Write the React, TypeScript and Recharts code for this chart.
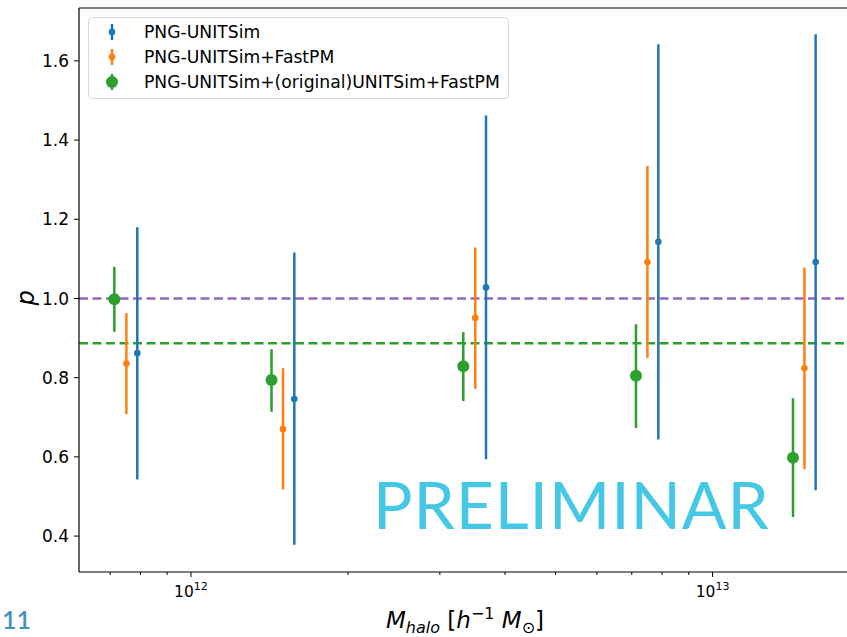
import React from "react";
import {
  ScatterChart,
  Scatter,
  XAxis,
  YAxis,
  ErrorBar,
  ReferenceLine,
  Legend,
} from "recharts";

// halo mass bins (h^-1 Msun), each series slightly offset
const massBlue = [7.89e11, 1.578e12, 3.678e12, 7.87e12, 1.576e13];
const massOrange = [7.52e11, 1.501e12, 3.508e12, 7.5e12, 1.5e13];
const massGreen = [7.13e11, 1.427e12, 3.327e12, 7.13e12, 1.426e13];

// p estimates and lower / upper ends of the error bars
const pBlue = [0.862, 0.746, 1.028, 1.143, 1.092];
const loBlue = [0.543, 0.378, 0.594, 0.644, 0.516];
const hiBlue = [1.18, 1.116, 1.462, 1.642, 1.667];

const pOrange = [0.836, 0.67, 0.951, 1.092, 0.824];
const loOrange = [0.708, 0.518, 0.772, 0.85, 0.569];
const hiOrange = [0.963, 0.824, 1.129, 1.335, 1.078];

const pGreen = [0.998, 0.794, 0.829, 0.805, 0.598];
const loGreen = [0.916, 0.714, 0.741, 0.673, 0.448];
const hiGreen = [1.08, 0.872, 0.915, 0.935, 0.748];

const seriesNames = [
  "PNG-UNITSim",
  "PNG-UNITSim+FastPM",
  "PNG-UNITSim+(original)UNITSim+FastPM",
];
const seriesColors = ["#1f77b4", "#ff7f0e", "#2ca02c"];
const dotRadius = [3.3, 3.3, 6];

const refLines = [1.0, 0.887];
const refColors = ["#9467bd", "#2ca02c"];

const xTicks = [
  7e11, 8e11, 9e11, 1e12, 2e12, 3e12, 4e12, 5e12, 6e12, 7e12, 8e12, 9e12, 1e13,
];
const yTicks = [0.4, 0.6, 0.8, 1.0, 1.2, 1.4, 1.6];
const xDomain = [6.1e11, 1.81e13];
const yDomain = [0.3093, 1.7336];

const toRows = (m: number[], p: number[], lo: number[], hi: number[]) =>
  m.map((mv, i) => ({ m: mv, p: p[i], err: [p[i] - lo[i], hi[i] - p[i]] }));

const seriesData = [
  toRows(massBlue, pBlue, loBlue, hiBlue),
  toRows(massOrange, pOrange, loOrange, hiOrange),
  toRows(massGreen, pGreen, loGreen, hiGreen),
];

const FONT = "DejaVu Sans, Verdana, sans-serif";

const MassTick = (props: any) => {
  const { x, y, payload } = props;
  const v = payload.value;
  const exp = Math.round(Math.log10(v));
  const major = Math.abs(v - Math.pow(10, exp)) < 1e-3 * v;
  return (
    <g>
      <line x1={x} x2={x} y1={y} y2={y + (major ? 5 : 3)} stroke="#000" strokeWidth={1} />
      {major && (
        <text x={x} y={y + 25} textAnchor="middle" fontFamily={FONT} fontSize={15.5} fill="#000">
          10
          <tspan dy={-7} fontSize={11}>
            {exp}
          </tspan>
        </text>
      )}
    </g>
  );
};

const renderLegend = () => (
  <svg width={422} height={83} style={{ display: "block" }}>
    <rect x={0.5} y={0.5} width={420} height={81} rx={4} fill="#fff" fillOpacity={0.8} stroke="#d6d6d6" />
    {seriesNames.map((name, i) => {
      const cy = 15 + 25 * i;
      return (
        <g key={name}>
          <line x1={24} x2={24} y1={cy - 8} y2={cy + 8} stroke={seriesColors[i]} strokeWidth={2.5} />
          <circle cx={24} cy={cy} r={dotRadius[i]} fill={seriesColors[i]} />
          <text x={56} y={cy + 6} fontFamily={FONT} fontSize={17.2} fill="#000">
            {name}
          </text>
        </g>
      );
    })}
  </svg>
);

const xLabel = () => (
  <text x={465} y={628} textAnchor="middle" fontFamily={FONT} fontSize={23} fill="#000">
    <tspan fontStyle="italic">M</tspan>
    <tspan fontStyle="italic" fontSize={16} dy={5}>halo</tspan>
    <tspan dy={-5}> [</tspan>
    <tspan fontStyle="italic">h</tspan>
    <tspan fontSize={16} dy={-9}>−1</tspan>
    <tspan dy={9}> </tspan>
    <tspan fontStyle="italic">M</tspan>
    <tspan fontSize={16} dy={5}>⊙</tspan>
    <tspan dy={-5}>]</tspan>
  </text>
);

const yLabel = () => (
  <text
    x={0}
    y={0}
    transform="translate(34 298) rotate(-90)"
    textAnchor="middle"
    fontFamily={FONT}
    fontStyle="italic"
    fontSize={24}
    fill="#000"
  >
    p
  </text>
);

export default function App() {
  return (
    <div style={{ position: "absolute", left: 0, top: 0, width: 847, height: 637 }}>
      <ScatterChart width={847} height={637} margin={{ top: 8, right: 0, bottom: 0, left: 0 }}>
        <XAxis
          dataKey="m"
          type="number"
          scale="log"
          domain={xDomain}
          allowDataOverflow
          ticks={xTicks}
          interval={0}
          tick={<MassTick />}
          tickLine={false}
          tickSize={0}
          tickMargin={0}
          height={65}
          axisLine={{ stroke: "#000", strokeWidth: 1.2 }}
          label={{ content: xLabel }}
        />
        <YAxis
          dataKey="p"
          type="number"
          domain={yDomain}
          allowDataOverflow
          ticks={yTicks}
          interval={0}
          width={79}
          tickSize={5}
          tickMargin={5}
          tickFormatter={(v: number) => v.toFixed(1)}
          tick={{ fill: "#000", fontFamily: FONT, fontSize: 17 }}
          tickLine={{ stroke: "#000" }}
          axisLine={{ stroke: "#000", strokeWidth: 1.2 }}
          label={{ content: yLabel }}
        />
        <ReferenceLine y={yDomain[1]} stroke="#000" strokeWidth={1.2} />
        {refLines.map((v, i) => (
          <ReferenceLine key={v} y={v} stroke={refColors[i]} strokeWidth={2.3} strokeDasharray="9 4.5" />
        ))}
        {seriesData.map((rows, i) => (
          <Scatter
            key={seriesNames[i]}
            name={seriesNames[i]}
            data={rows}
            dataKey="p"
            fill={seriesColors[i]}
            isAnimationActive={false}
            shape={(props: any) => (
              <circle cx={props.cx} cy={props.cy} r={dotRadius[i]} fill={seriesColors[i]} />
            )}
          >
            <ErrorBar
              dataKey="err"
              direction="y"
              width={0}
              stroke={seriesColors[i]}
              strokeWidth={2.5}
              isAnimationActive={false}
            />
          </Scatter>
        ))}
        <Legend
          layout="horizontal"
          verticalAlign="middle"
          align="center"
          content={renderLegend}
          wrapperStyle={{ left: 88, top: 17, width: 422, height: 83 }}
        />
      </ScatterChart>
      <svg
        width={847}
        height={637}
        style={{ position: "absolute", left: 0, top: 0, pointerEvents: "none" }}
      >
        <text x={373} y={529} fontFamily="Lato" fontSize={66} letterSpacing={0.9} fill="#45c8e6">
          PRELIMINAR
        </text>
        <text x={2} y={629} fontFamily="Lato" fontSize={25} fontWeight={600} fill="#3d94c4">
          11
        </text>
      </svg>
    </div>
  );
}
